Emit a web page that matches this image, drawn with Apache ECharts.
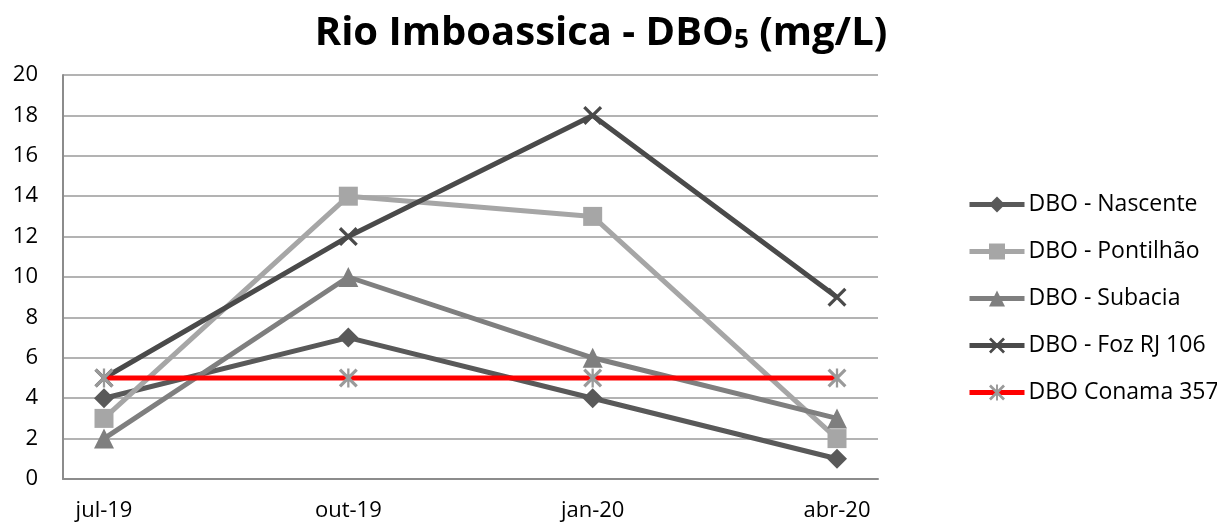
<!DOCTYPE html>
<html><head><meta charset="utf-8">
<script src="https://cdn.jsdelivr.net/npm/echarts@6/dist/echarts.min.js"></script>
<style>html,body{margin:0;padding:0;background:#fff}#c{width:1217px;height:527px}</style>
</head><body><div id="c"></div>
<script>
const categories = ['jul-19', 'out-19', 'jan-20', 'abr-20'];
const nascente = [4, 7, 4, 1];
const pontilhao = [3, 14, 13, 2];
const subacia = [2, 10, 6, 3];
const foz = [5, 12, 18, 9];
const conama = [5, 5, 5, 5];
const yTicks = [0, 2, 4, 6, 8, 10, 12, 14, 16, 18, 20];

const pts = arr => arr.map((v, i) => [i, v]);
const xPath = 'path://M0,1.2 L1.2,0 L10,8.8 L8.8,10 Z M8.8,0 L10,1.2 L1.2,10 L0,8.8 Z';
const starPath = 'path://M0,1.2 L1.2,0 L10,8.8 L8.8,10 Z M8.8,0 L10,1.2 L1.2,10 L0,8.8 Z M4.4,0 L5.6,0 L5.6,10 L4.4,10 Z';
const font = '"Open Sans", "Noto Sans", sans-serif';

const chart = echarts.init(document.getElementById('c'));
chart.setOption({
  animation: false,
  backgroundColor: '#fff',
  title: {
    text: 'Rio Imboassica - DBO{s|5} (mg/L)',
    left: 601, top: 14, textAlign: 'center', padding: 0,
    textStyle: {
      fontFamily: font, fontWeight: 'bold', fontSize: 40, color: '#000',
      rich: { s: { fontFamily: font, fontWeight: 'bold', fontSize: 26, color: '#000', verticalAlign: 'bottom', padding: [12, 0, 0, 0] } }
    }
  },
  legend: {
    orient: 'vertical', left: 967, top: 193, padding: 0,
    itemWidth: 55, itemHeight: 20, itemGap: 24,
    lineStyle: { width: 5, color: 'inherit' },
    textStyle: { fontFamily: font, fontSize: 23, color: '#000', padding: [0, 0, 0, -1] },
    data: ['DBO - Nascente', 'DBO - Pontilhão', 'DBO - Subacia', 'DBO - Foz RJ 106', 'DBO Conama 357']
  },
  grid: { left: 63, right: 339, top: 75, bottom: 48 },
  xAxis: {
    type: 'value', min: -0.1678, max: 3.1678,
    splitLine: { show: false },
    axisTick: { show: false },
    axisLine: { show: true, onZero: false, lineStyle: { color: '#8c8c8c', width: 2 } },
    axisLabel: {
      customValues: [0, 1, 2, 3], showMinLabel: true, showMaxLabel: true,
      formatter: v => categories[Math.round(v)],
      fontFamily: font, fontSize: 22, color: '#000', margin: 21
    }
  },
  yAxis: {
    type: 'value', min: 0, max: 20, interval: 2,
    axisLine: { show: true, onZero: false, lineStyle: { color: '#8c8c8c', width: 2 } },
    axisTick: { show: false },
    splitLine: { show: true, lineStyle: { color: '#9a9a9a', width: 1.5 } },
    axisLabel: { fontFamily: font, fontSize: 22, color: '#000', margin: 25,
      formatter: v => yTicks.includes(v) ? String(v) : '' }
  },
  series: [
    { name: 'DBO - Nascente', type: 'line', data: pts(nascente), symbol: 'diamond', symbolSize: 20,
      lineStyle: { color: '#595959', width: 5 }, itemStyle: { color: '#595959' } },
    { name: 'DBO - Pontilhão', type: 'line', data: pts(pontilhao), symbol: 'rect', symbolSize: 19,
      lineStyle: { color: '#a6a6a6', width: 5 }, itemStyle: { color: '#a6a6a6' } },
    { name: 'DBO - Subacia', type: 'line', data: pts(subacia), symbol: 'triangle', symbolSize: 20,
      lineStyle: { color: '#7f7f7f', width: 5 }, itemStyle: { color: '#7f7f7f' } },
    { name: 'DBO - Foz RJ 106', type: 'line', data: pts(foz), symbol: xPath, symbolSize: 19,
      lineStyle: { color: '#4a4a4a', width: 5 }, itemStyle: { color: '#4a4a4a' } },
    { name: 'DBO Conama 357', type: 'line', data: pts(conama), symbol: starPath, symbolSize: 19,
      lineStyle: { color: '#ff0000', width: 5 }, itemStyle: { color: '#9a9a9a' } }
  ]
});
</script></body></html>
